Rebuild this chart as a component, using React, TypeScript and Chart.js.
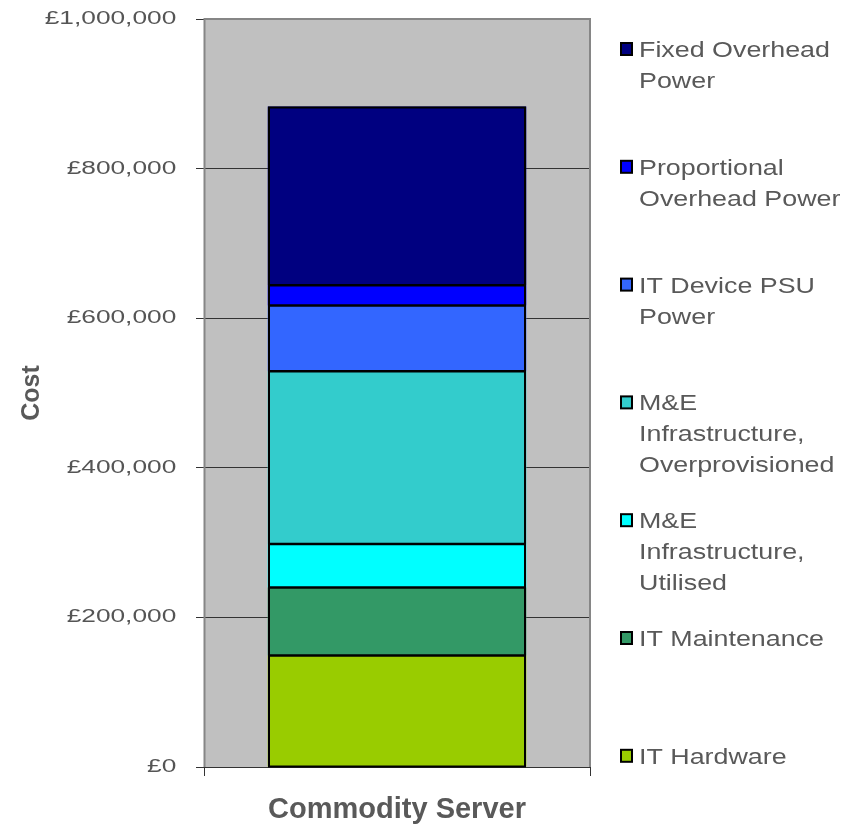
import React, { useEffect, useRef } from "react";
import { Chart, registerables } from "chart.js";

Chart.register(...registerables);

const categories = ["Commodity Server"];

const seriesNames = [
  "IT Hardware",
  "IT Maintenance",
  "M&E Infrastructure, Utilised",
  "M&E Infrastructure, Overprovisioned",
  "IT Device PSU Power",
  "Proportional Overhead Power",
  "Fixed Overhead Power",
];

const legendLines = [
  ["IT Hardware"],
  ["IT Maintenance"],
  ["M&E", "Infrastructure,", "Utilised"],
  ["M&E", "Infrastructure,", "Overprovisioned"],
  ["IT Device PSU", "Power"],
  ["Proportional", "Overhead Power"],
  ["Fixed Overhead", "Power"],
];

const itHardware = [149000];
const itMaintenance = [91000];
const meUtilised = [58000];
const meOverprovisioned = [231000];
const itDevicePsuPower = [88000];
const proportionalOverheadPower = [27000];
const fixedOverheadPower = [239000];

const seriesValues = [
  itHardware,
  itMaintenance,
  meUtilised,
  meOverprovisioned,
  itDevicePsuPower,
  proportionalOverheadPower,
  fixedOverheadPower,
];

const seriesColors = [
  "#99CC00",
  "#339966",
  "#00FFFF",
  "#33CCCC",
  "#3366FF",
  "#0000FF",
  "#000080",
];

const yMin = 0;
const yMax = 1000000;
const yStep = 200000;

const FONT = "'Liberation Sans', Arial, sans-serif";
const TEXT_COLOR = "#595959";

const decorPlugin = {
  id: "decor",
  beforeDraw(chart: any) {
    const { ctx, chartArea } = chart;
    const { left, top, right, bottom } = chartArea;
    ctx.save();
    ctx.fillStyle = "#C0C0C0";
    ctx.fillRect(left, top, right - left, bottom - top);
    ctx.restore();
  },
  afterLayout(chart: any) {
    const y = chart.scales.y;
    if (y && !y._stretchPatched) {
      const orig = y.drawLabels.bind(y);
      y.drawLabels = (area: any) => {
        const ctx = y.ctx;
        ctx.save();
        const ax = y.right;
        ctx.translate(ax, 0);
        ctx.scale(1.46, 1);
        ctx.translate(-ax, 0);
        orig(area);
        ctx.restore();
      };
      y._stretchPatched = true;
    }
  },
  afterDatasetsDraw(chart: any) {
    const { ctx } = chart;
    const n = chart.data.datasets.length;
    const first = chart.getDatasetMeta(0).data[0] as any;
    const last = chart.getDatasetMeta(n - 1).data[0] as any;
    if (!first || !last) return;
    const half = first.width / 2;
    const x0 = Math.round(first.x - half);
    const x1 = Math.round(first.x + half);
    const yTop = last.y;
    const yBot = first.base;
    ctx.save();
    ctx.strokeStyle = "#000000";
    // dividers between segments
    ctx.lineWidth = 2.5;
    for (let i = 0; i < n - 1; i++) {
      const el = chart.getDatasetMeta(i).data[0] as any;
      ctx.beginPath();
      ctx.moveTo(x0, el.y);
      ctx.lineTo(x1, el.y);
      ctx.stroke();
    }
    // outline of the column
    ctx.lineWidth = 2;
    ctx.strokeRect(x0 + 1, yTop + 1, x1 - x0 - 2, yBot - yTop - 1);
    ctx.restore();
  },
  afterDraw(chart: any) {
    const { ctx, chartArea } = chart;
    const { left, top, right } = chartArea;
    ctx.save();
    ctx.strokeStyle = "#868686";
    ctx.lineWidth = 2;
    ctx.beginPath();
    ctx.moveTo(left + 0.5, chartArea.bottom);
    ctx.lineTo(left + 0.5, top);
    ctx.lineTo(right, top);
    ctx.lineTo(right, chartArea.bottom);
    ctx.stroke();

    const n = chart.data.datasets.length;
    const startCapTop = 41;
    const step = 117.8;
    const boxX = 620;
    const textX = 639;
    const lineH = 31;
    ctx.font = `22px ${FONT}`;
    ctx.textAlign = "left";
    ctx.textBaseline = "alphabetic";
    for (let k = 0; k < n; k++) {
      const ds = chart.data.datasets[n - 1 - k];
      const lines = legendLines[n - 1 - k];
      const capTop = startCapTop + k * step;
      ctx.fillStyle = "#000000";
      ctx.fillRect(boxX, capTop + 1, 13, 14);
      ctx.fillStyle = ds.backgroundColor;
      ctx.fillRect(boxX + 2, capTop + 3, 9, 10);
      ctx.fillStyle = TEXT_COLOR;
      lines.forEach((ln: string, i: number) => {
        ctx.save();
        ctx.translate(textX, capTop + 16 + i * lineH);
        ctx.scale(1.22, 1);
        ctx.fillText(ln, 0, 0);
        ctx.restore();
      });
    }
    ctx.restore();
  },
};

export default function App() {
  const canvasRef = useRef<HTMLCanvasElement | null>(null);

  useEffect(() => {
    if (!canvasRef.current) return;
    const chart = new Chart(canvasRef.current, {
      type: "bar",
      data: {
        labels: categories,
        datasets: seriesNames.map((name, i) => ({
          label: name,
          data: seriesValues[i],
          backgroundColor: seriesColors[i],
          borderWidth: 0,
          barPercentage: 0.67,
          categoryPercentage: 1,
        })),
      },
      options: {
        responsive: false,
        animation: false,
        devicePixelRatio: 1,
        layout: { padding: { left: 0, right: 263, top: 19, bottom: 1 } },
        plugins: {
          legend: { display: false },
          tooltip: { enabled: false },
        },
        scales: {
          x: {
            stacked: true,
            grid: {
              display: true,
              drawOnChartArea: false,
              drawTicks: true,
              tickLength: 9,
              color: "#333333",
              offset: true,
            },
            border: { display: true, color: "#333333", width: 1 },
            ticks: {
              color: TEXT_COLOR,
              font: { family: FONT, size: 29, weight: "bold" },
              padding: 17,
            },
            afterFit: (scale: any) => {
              scale.height = 60;
            },
          },
          y: {
            stacked: true,
            min: yMin,
            max: yMax,
            grid: {
              color: "#333333",
              lineWidth: 1,
              drawTicks: true,
              tickLength: 8,
            },
            border: { display: false },
            ticks: {
              stepSize: yStep,
              color: "#555555",
              font: { family: FONT, size: 18 },
              padding: 11,
              callback: (v: any) => "£" + Number(v).toLocaleString("en-GB"),
            },
            title: {
              display: true,
              text: "Cost",
              color: TEXT_COLOR,
              font: { family: FONT, size: 25, weight: "bold" },
              padding: { top: 17, bottom: 0 },
            },
            afterFit: (scale: any) => {
              scale.width = 204;
              scale.paddingTop = 0;
              scale.paddingBottom = 0;
            },
          },
        },
      },
      plugins: [decorPlugin],
    });
    return () => chart.destroy();
  }, []);

  return (
    <div style={{ position: "absolute", left: 0, top: 0, width: 853, height: 828, background: "#ffffff" }}>
      <canvas ref={canvasRef} width={853} height={828} />
    </div>
  );
}
